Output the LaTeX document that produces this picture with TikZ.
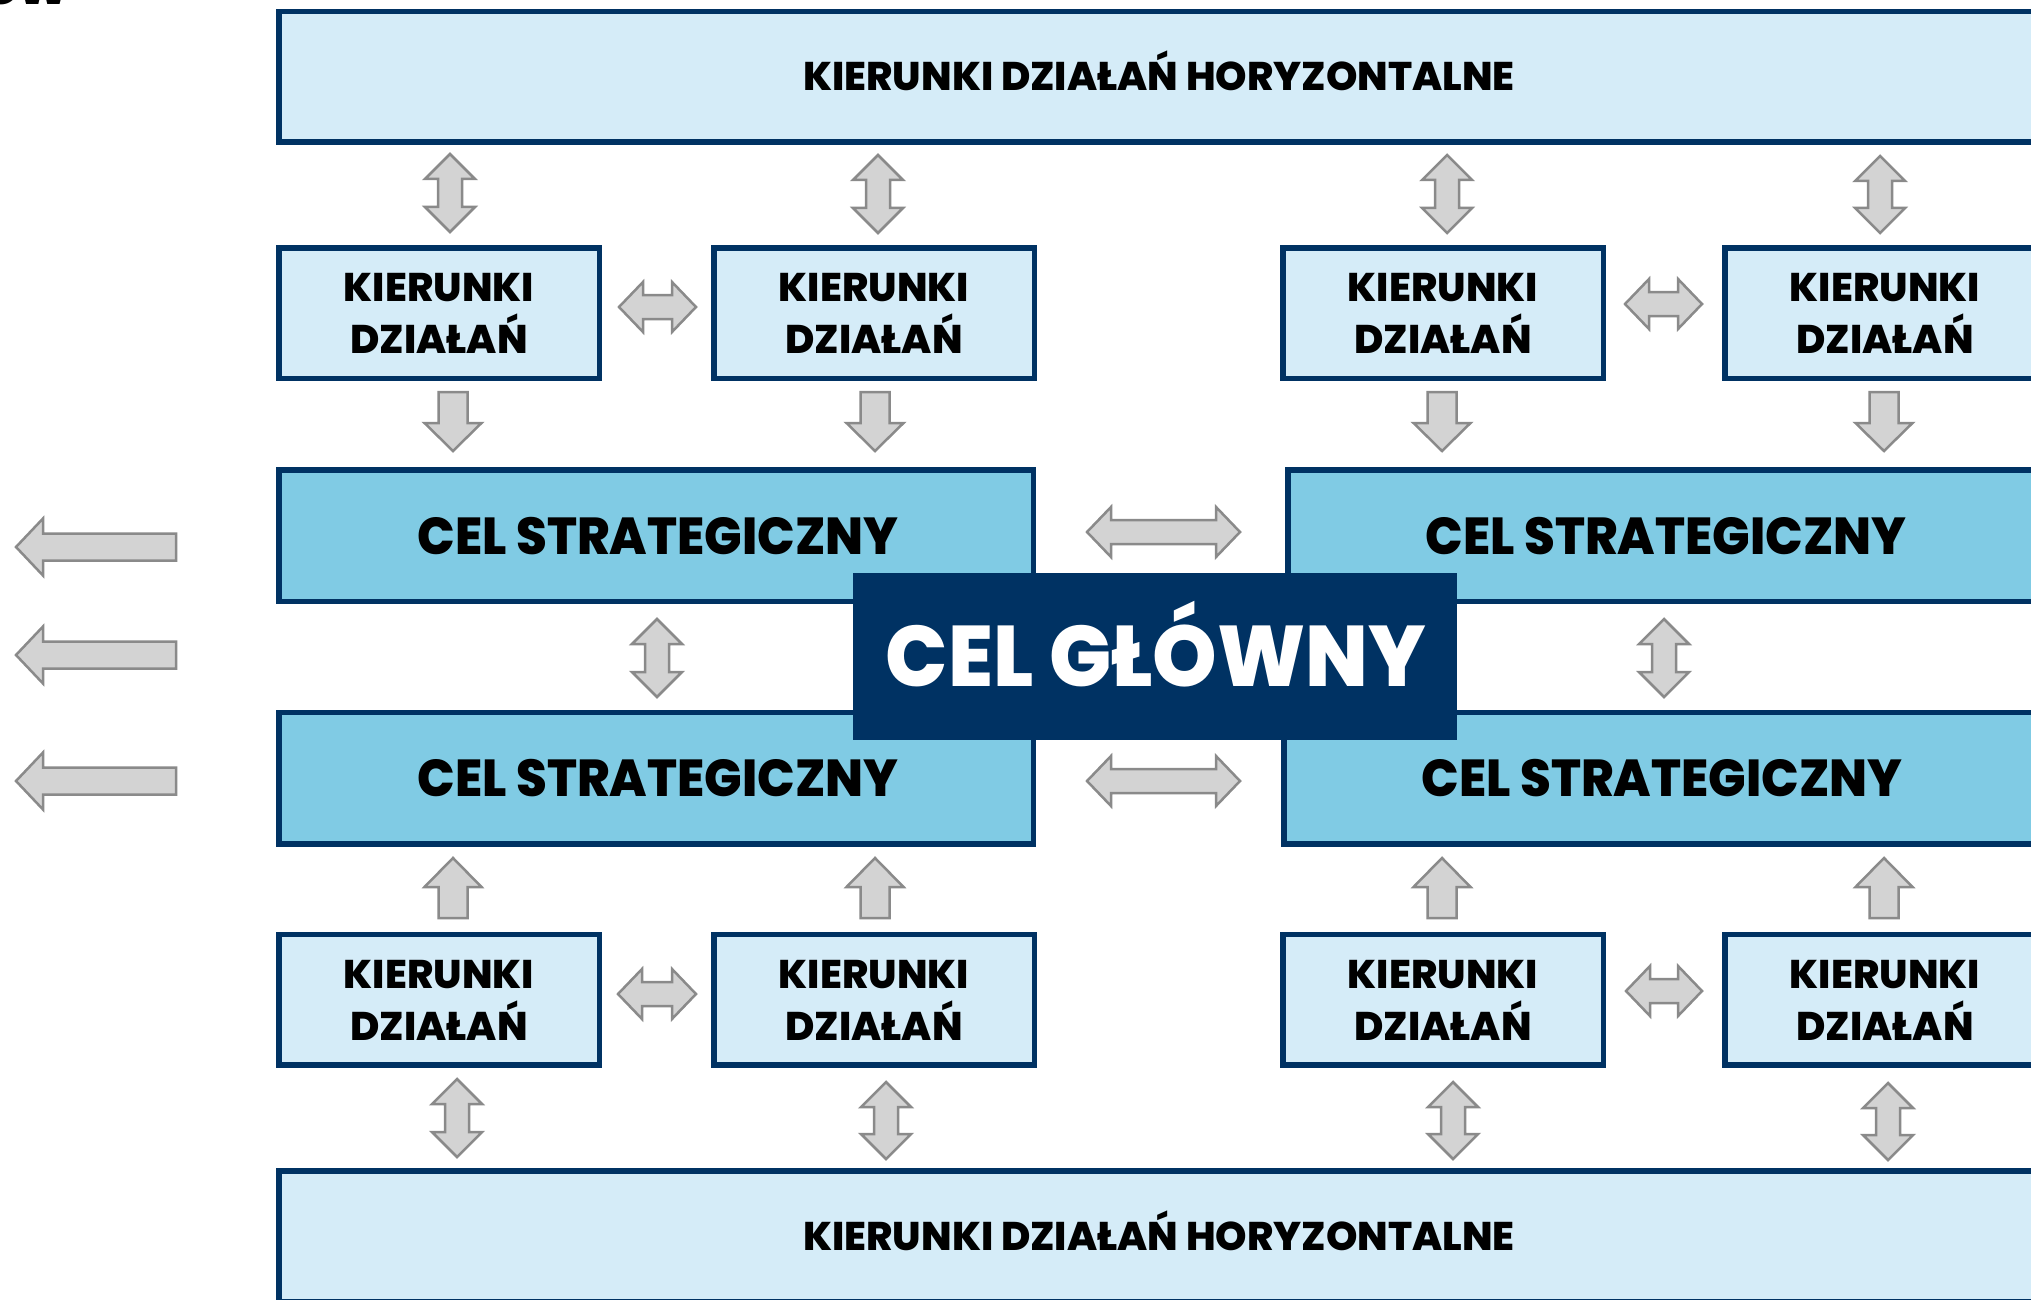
\documentclass[tikz,border=0pt]{standalone}
\usepackage{fontspec}
\IfFontExistsTF{Poppins ExtraBold}{%
  \newfontfamily\hv{Poppins ExtraBold}%
  \newfontfamily\hvn{Poppins ExtraBold}[FakeStretch=0.955]}{%
  \newfontfamily\hv{Poppins Bold}%
  \newfontfamily\hvn{Poppins Bold}[FakeStretch=0.955]}
\definecolor{navy}{HTML}{003263}
\definecolor{lightcol}{HTML}{D5ECF8}
\definecolor{cscol}{HTML}{80CBE4}
\definecolor{arrfill}{HTML}{D3D3D3}
\definecolor{arrline}{HTML}{8A8A8A}
\tikzset{
  bx/.style={draw=navy, line width=5.5pt, inner sep=0pt, outer sep=0pt},
  kdbox/.style={bx, fill=lightcol, minimum width=320.5pt, minimum height=130.5pt},
  hzbox/.style={bx, fill=lightcol, minimum width=1763.5pt, minimum height=130.5pt},
  strbox/.style={bx, fill=cscol, minimum width=754.5pt, minimum height=131.5pt},
  mainbox/.style={fill=navy, inner sep=0pt, minimum width=604pt, minimum height=167pt},
  kdtxt/.style={anchor=base, inner sep=0pt, font=\hv\fontsize{40}{48}\selectfont},
  hztxt/.style={anchor=base, inner sep=0pt, font=\hv\fontsize{40}{48}\selectfont},
  cstxt/.style={anchor=base, inner sep=0pt, font=\hvn\fontsize{52}{60}\selectfont},
  cgtxt/.style={anchor=base, inner sep=0pt, text=white, font=\hvn\fontsize{86}{96}\selectfont},
  blkarr/.style={fill=arrfill, draw=arrline, line width=2.5pt, line join=miter},
}
% block arrows
\newcommand\bkVD[3]{% x, top tip, bottom tip
  \draw[blkarr] (#1,#2) -- ({#1+25},{#2+25}) -- ({#1+12},{#2+25}) -- ({#1+12},{#3-25}) -- ({#1+25},{#3-25}) -- (#1,#3) -- ({#1-25},{#3-25}) -- ({#1-12},{#3-25}) -- ({#1-12},{#2+25}) -- ({#1-25},{#2+25}) -- cycle;}
\newcommand\bkHD[3]{% left tip, right tip, y
  \draw[blkarr] (#1,#3) -- ({#1+24},{#3-25}) -- ({#1+24},{#3-12}) -- ({#2-24},{#3-12}) -- ({#2-24},{#3-25}) -- (#2,#3) -- ({#2-24},{#3+25}) -- ({#2-24},{#3+12}) -- ({#1+24},{#3+12}) -- ({#1+24},{#3+25}) -- cycle;}
\newcommand\bkDown[3]{% x, shaft top, tip
  \draw[blkarr] ({#1-14.5},#2) -- ({#1+14.5},#2) -- ({#1+14.5},{#3-28}) -- ({#1+28.5},{#3-28}) -- (#1,#3) -- ({#1-28.5},{#3-28}) -- ({#1-14.5},{#3-28}) -- cycle;}
\newcommand\bkUp[3]{% x, tip, shaft bottom
  \draw[blkarr] (#1,#2) -- ({#1+28.5},{#2+29}) -- ({#1+14.5},{#2+29}) -- ({#1+14.5},#3) -- ({#1-14.5},#3) -- ({#1-14.5},{#2+29}) -- ({#1-28.5},{#2+29}) -- cycle;}
\newcommand\bkLeft[1]{% y
  \draw[blkarr] (16,#1) -- (43,{#1-28.5}) -- (43,{#1-13.5}) -- (176,{#1-13.5}) -- (176,{#1+13.5}) -- (43,{#1+13.5}) -- (43,{#1+28.5}) -- cycle;}
\newcommand\kdnode[3]{% name, x, y
  \node[kdbox] (#1) at (#2,#3) {};
  \node[kdtxt] (#1a) at (#2,{#3-11.5}) {KIERUNKI};
  \node[kdtxt] (#1b) at (#2,{#3+40.5}) {DZIAŁAŃ};}
\begin{document}
\begin{tikzpicture}[x=1pt,y=-1pt]
\useasboundingbox (0,0) rectangle (2031,1300);
\clip (0,0) rectangle (2031,1300);
\fill[white] (0,0) rectangle (2031,1300);

% fragment of cut-off title
\node[anchor=base west, inner sep=0pt, font=\hv\fontsize{56}{60}\selectfont] (frag) at (-17,5) {ów};

% horizontal bands
\node[hzbox] (hzT) at (1160.5,77) {};
\node[hztxt] (hzTt) at (1159,91) {KIERUNKI DZIAŁAŃ HORYZONTALNE};
\node[hzbox] (hzB) at (1160.5,1236) {};
\node[hztxt] (hzBt) at (1159,1250) {KIERUNKI DZIAŁAŃ HORYZONTALNE};

% action boxes
\kdnode{kdT1}{439}{313}
\kdnode{kdT2}{874}{313}
\kdnode{kdT3}{1443}{313}
\kdnode{kdT4}{1885}{313}
\kdnode{kdB1}{439}{999.5}
\kdnode{kdB2}{874}{999.5}
\kdnode{kdB3}{1443}{999.5}
\kdnode{kdB4}{1885}{999.5}

% strategic goals
\node[strbox] (csTL) at (656,535.5) {};
\node[cstxt] (csTLt) at (658,554) {CEL STRATEGICZNY};
\node[strbox] (csTR) at (1665,535.5) {};
\node[cstxt] (csTRt) at (1666,554) {CEL STRATEGICZNY};
\node[strbox] (csBL) at (656,778) {};
\node[cstxt] (csBLt) at (658,796.5) {CEL STRATEGICZNY};
\node[strbox] (csBR) at (1661,778) {};
\node[cstxt] (csBRt) at (1662,796.5) {CEL STRATEGICZNY};

% main goal
\node[mainbox] (cg) at (1155,656.5) {};
\node[cgtxt] (cgt) at (1156,686.5) {CEL GŁÓWNY};

% arrows: horizontal band <-> action boxes (top)
\bkVD{450}{154}{232}
\bkVD{878}{155}{233}
\bkVD{1447}{155}{233}
\bkVD{1880}{156}{233}
% between top action boxes
\bkHD{619}{696}{307}
\bkHD{1625}{1702}{304}
% top action boxes -> strategic goals
\bkDown{453}{392}{451}
\bkDown{875}{392}{451}
\bkDown{1442}{392}{451}
\bkDown{1884}{392}{451}
% between strategic goals
\bkHD{1087}{1240}{532}
\bkHD{1087}{1240}{781}
\bkVD{657}{619}{697}
\bkVD{1664}{619}{697}
% bottom action boxes -> strategic goals
\bkUp{453}{858}{918}
\bkUp{875}{858}{918}
\bkUp{1442}{858}{918}
\bkUp{1884}{858}{918}
% between bottom action boxes
\bkHD{618}{696}{994}
\bkHD{1626}{1702}{991}
% action boxes <-> bottom band
\bkVD{457}{1079}{1157}
\bkVD{886}{1082}{1159}
\bkVD{1453}{1082}{1159}
\bkVD{1888}{1083}{1160}
% left arrows
\bkLeft{547}
\bkLeft{655}
\bkLeft{781}
\end{tikzpicture}
\end{document}
